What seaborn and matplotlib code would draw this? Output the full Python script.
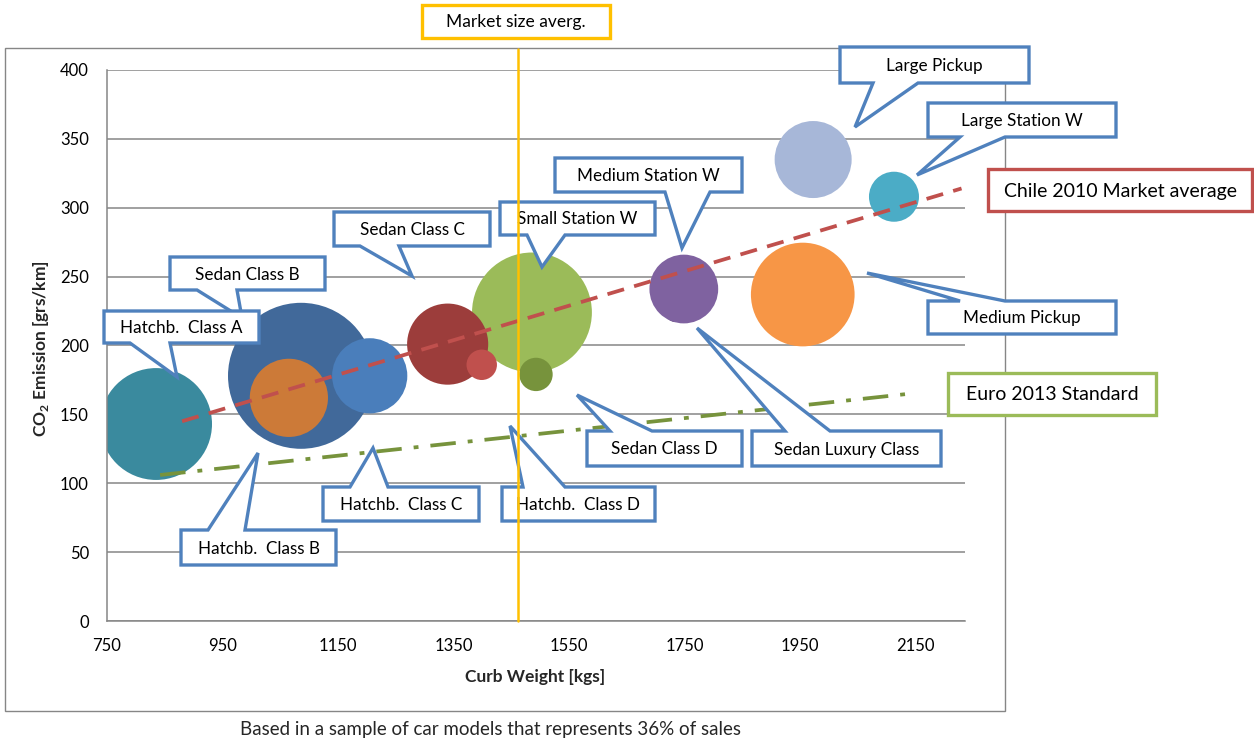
import matplotlib
matplotlib.use("Agg")
import matplotlib.pyplot as plt
import matplotlib.transforms as mtransforms
from matplotlib.patches import Polygon, Rectangle
import pandas as pd
import seaborn as sns

# ---- data -------------------------------------------------------------
segments = ["Sedan Class B", "Small Station W", "Hatchb.  Class A", "Medium Pickup",
            "Sedan Class C", "Hatchb.  Class B", "Large Pickup", "Hatchb.  Class C",
            "Sedan Luxury Class", "Medium Station W", "Large Station W",
            "Sedan Class D", "Hatchb.  Class D"]
curb_weight = [1086, 1486, 835, 1955, 1340, 1065, 1973, 1205, 1734, 1749, 2113, 1493, 1399]
co2_emission = [178, 224, 143, 237, 201, 162, 335, 178, 224, 241, 308, 179, 186]
sales_share = [23.0, 15.5, 13.5, 11.6, 7.1, 6.6, 6.4, 6.1, 0.4, 5.1, 2.7, 1.2, 1.0]

chile_weight = [880, 2230]
chile_co2 = [145, 314]
euro_weight = [842, 2140]
euro_co2 = [106, 165]
market_avg_weight = 1462

x_ticks = [750, 950, 1150, 1350, 1550, 1750, 1950, 2150]
y_ticks = [0, 50, 100, 150, 200, 250, 300, 350, 400]

segment_colors = {
    "Sedan Class B": "#41699A", "Small Station W": "#9BBB59",
    "Hatchb.  Class A": "#3A8A9E", "Medium Pickup": "#F79646",
    "Sedan Class C": "#9C3D3B", "Hatchb.  Class B": "#CC7A38",
    "Large Pickup": "#A7B7D8", "Hatchb.  Class C": "#4A7EBB",
    "Sedan Luxury Class": "#5F4A7C", "Medium Station W": "#7F62A0",
    "Large Station W": "#4BACC6", "Sedan Class D": "#77933C",
    "Hatchb.  Class D": "#C0504D",
}

df = pd.DataFrame({"segment": segments, "weight": curb_weight,
                   "co2": co2_emission, "share": sales_share})

# ---- figure -----------------------------------------------------------
sns.set_theme(style="white")
plt.rcParams["font.family"] = ["Lato", "DejaVu Sans"]
plt.rcParams["mathtext.fontset"] = "custom"
plt.rcParams["mathtext.rm"] = "Lato"
plt.rcParams["mathtext.bf"] = "Lato:bold"

W, H = 1254, 740
fig = plt.figure(figsize=(W / 100, H / 100), dpi=100)
fig.patch.set_facecolor("white")
ax = fig.add_axes([107 / W, 1 - 621 / H, (965 - 107) / W, (621 - 70) / H])
px = mtransforms.Affine2D().scale(1 / W, -1 / H).translate(0, 1) + fig.transFigure

grey = "#868686"
ax.set_xlim(750, 2236)
ax.set_ylim(0, 400)
ax.set_xticks(x_ticks)
ax.set_yticks(y_ticks)
ax.set_yticklabels([str(v) for v in y_ticks])
ax.set_xticklabels([str(v) for v in x_ticks])
ax.tick_params(axis="both", length=0, labelsize=12, colors="black")
ax.tick_params(axis="x", pad=12)
ax.tick_params(axis="y", pad=13)
ax.yaxis.grid(True, color=grey, linewidth=1.1)
ax.xaxis.grid(False)
for side in ("top", "right"):
    ax.spines[side].set_visible(False)
for side in ("left", "bottom"):
    ax.spines[side].set_color(grey)
    ax.spines[side].set_linewidth(1.1)
ax.set_axisbelow(True)

# bubbles: marker area proportional to share of sales
sns.scatterplot(data=df, x="weight", y="co2", hue="segment", size="share",
                palette=segment_colors, sizes=(0, 11050), size_norm=(0, 23.0),
                hue_order=segments, linewidth=0, edgecolor="none", alpha=1,
                legend=False, ax=ax, zorder=2)
ax.set_xlabel("")
ax.set_ylabel("")

# reference lines
ax.plot(chile_weight, chile_co2, color="#C0504D", linewidth=2.7,
        dashes=(4.6, 2.8), zorder=3, solid_capstyle="butt")
ax.plot(euro_weight, euro_co2, color="#77933C", linewidth=2.7,
        dashes=(6.8, 3.2, 1.3, 3.2), zorder=3)
ax.plot([market_avg_weight, market_avg_weight], [0, 415], color="#FFC000",
        linewidth=1.8, zorder=20, clip_on=False)

# ---- callouts ---------------------------------------------------------
def callout_vertices(box, edge=None, base=None, tip=None):
    x0, y0, x1, y1 = box
    pts = [(x0, y0)]
    if edge == "top":
        pts += [(base[0], y0), tip, (base[1], y0)]
    pts += [(x1, y0), (x1, y1)]
    if edge == "bottom":
        pts += [(base[1], y1), tip, (base[0], y1)]
    pts += [(x0, y1)]
    return pts

blue = "#4F81BD"
fs_call = 12.3
callouts = [
    ("Sedan Class B", (170, 257, 325, 290), "bottom", (197, 237), (242, 318), blue, fs_call),
    ("Hatchb.  Class A", (104, 311, 259, 343), "bottom", (130, 170), (177, 377), blue, fs_call),
    ("Sedan Class C", (334, 212, 490, 246), "bottom", (360, 399), (412, 276), blue, fs_call),
    ("Small Station W", (500, 202, 655, 235), "bottom", (527, 565), (542, 267), blue, fs_call),
    ("Medium Station W", (555, 158, 742, 192), "bottom", (665, 710), (682, 248), blue, fs_call),
    ("Large Pickup", (840, 47, 1029, 83), "bottom", (873, 918), (855, 127), blue, fs_call),
    ("Large Station W", (928, 103, 1116, 137), "bottom", (960, 1005), (917, 175), blue, fs_call),
    ("Medium Pickup", (928, 301, 1116, 334), "top", (960, 1005), (867, 273), blue, fs_call),
    ("Sedan Luxury Class", (752, 431, 941, 466), "top", (785, 830), (697, 328), blue, fs_call),
    ("Sedan Class D", (587, 431, 742, 466), "top", (610, 652), (577, 395), blue, fs_call),
    ("Hatchb.  Class D", (502, 487, 655, 521), "top", (523, 565), (510, 426), blue, fs_call),
    ("Hatchb.  Class C", (323, 487, 479, 521), "top", (350, 388), (373, 448), blue, fs_call),
    ("Hatchb.  Class B", (181, 530, 336, 565), "top", (208, 245), (258, 453), blue, fs_call),
    ("Chile 2010 Market average", (988, 169, 1252, 211), None, None, None, "#C0504D", 14),
    ("Euro 2013 Standard", (948, 373, 1156, 415), None, None, None, "#9BBB59", 14),
    ("Market size averg.", (422, 5, 610, 38), None, None, None, "#FFC000", 12.5),
]

for i, (label, box, edge, base, tip, color, fs) in enumerate(callouts):
    z = 5 + i * 0.1
    poly = Polygon(callout_vertices(box, edge, base, tip), closed=True,
                   facecolor="white", edgecolor=color, linewidth=2.4,
                   joinstyle="miter", transform=px, clip_on=False, zorder=z)
    ax.add_patch(poly)
    ax.text((box[0] + box[2]) / 2, (box[1] + box[3]) / 2 + 1, label,
            transform=px, ha="center", va="center", fontsize=fs,
            color="black", zorder=z + 0.05, clip_on=False)

# ---- axis titles, caption, chart frame -------------------------------
ax.text(535, 677, "Curb Weight [kgs]", transform=px, ha="center", va="center",
        fontsize=12.5, fontweight="bold", clip_on=False)
ax.text(41, 349, r"CO$_\mathbf{2}$ Emission [grs/km]", transform=px, ha="center",
        va="center", rotation=90, fontsize=12.5, fontweight="bold", clip_on=False)
fig.text(490 / W, 1 - 729 / H, "Based in a sample of car models that represents 36% of sales",
         ha="center", va="center", fontsize=13.5)
fig.add_artist(Rectangle((5 / W, 1 - 711 / H), 1000 / W, 663 / H, transform=fig.transFigure,
                         facecolor="none", edgecolor=grey, linewidth=1.0, zorder=-1))

fig.savefig("out.png", dpi=100)
